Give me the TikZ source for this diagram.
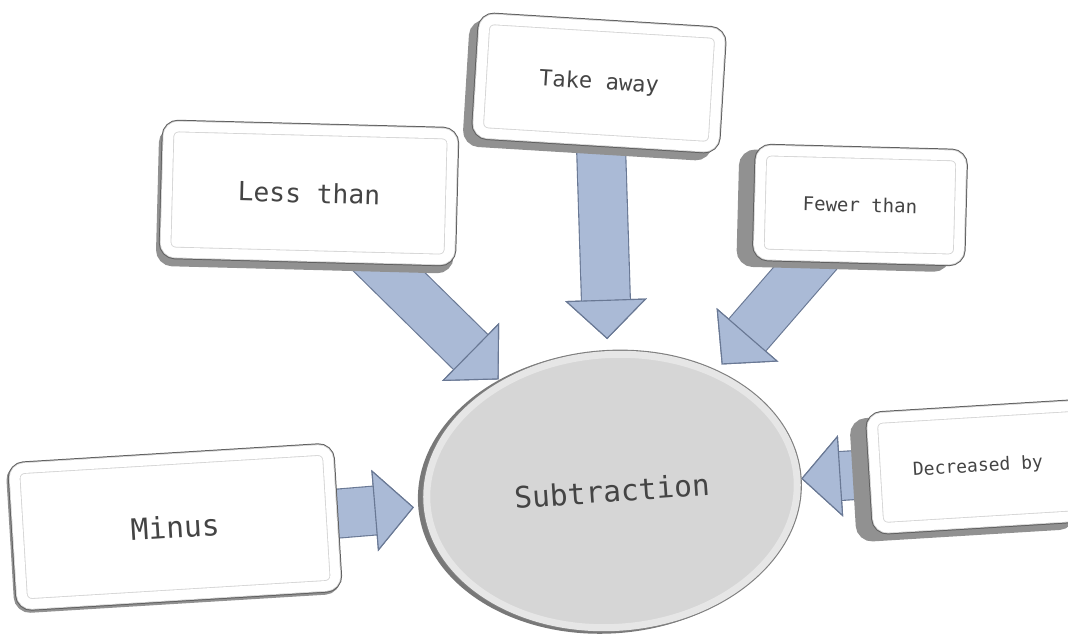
\documentclass[tikz,border=0pt]{standalone}
\usepackage{fontspec}
\setmonofont{DejaVu Sans Mono}
\usetikzlibrary{arrows.meta,shapes.geometric,backgrounds}

\definecolor{arrowFill}{RGB}{170,186,214}
\definecolor{arrowEdge}{RGB}{105,120,148}
\definecolor{boxEdge}{RGB}{95,95,95}
\definecolor{boxSide}{RGB}{145,145,145}
\definecolor{bevelGrey}{RGB}{212,212,212}
\definecolor{hubFill}{RGB}{214,214,214}
\definecolor{hubRing}{RGB}{230,230,230}
\definecolor{hubSide}{RGB}{120,120,120}
\definecolor{textGrey}{RGB}{68,68,68}

\begin{document}
\begin{tikzpicture}[x=0.025cm, y=-0.025cm]
		\tikzset{keybox/.style={rectangle, rounded corners=7pt, inner sep=0pt, fill=white,
				draw=bevelGrey, line width=0.6pt, double=white, double distance=7pt, text=textGrey,
				preaction={fill=boxSide, draw=boxSide, line width=9.6pt, transform canvas={shift={#1}}},
				preaction={draw=boxEdge, line width=9.6pt}}}
		\tikzstyle{hub} = [ellipse, inner sep=0pt, minimum width=9.27cm, minimum height=6.82cm,
		fill=hubFill, draw=hubRing, line width=5pt, text=textGrey,
		preaction={draw=hubSide, line width=6.6pt, transform canvas={shift={(-3pt,-1pt)}}},
		preaction={draw=boxEdge!80, line width=6.6pt}]
		\tikzstyle{fatArrow} = [draw=arrowFill, line width=34pt,
		-{Triangle[width=58pt, length=28pt, color=arrowEdge, fill=arrowFill, line width=0.8pt]},
		preaction={draw=arrowEdge, line width=35.6pt}]
		\useasboundingbox (0,0) rectangle (1068,635);
		\clip (0,0) rectangle (1068,635);
		\node (subtraction) [hub, rotate=4, font=\ttfamily\fontsize{21}{25}\selectfont] at (612,491) {Subtraction};
		\node (takeAway) [keybox={(-6pt,-5pt)}, minimum width=5.9cm, minimum height=2.85cm, rotate=-3.5,
		font=\ttfamily\fontsize{15.7}{19}\selectfont] at (599,83) {Take away};
		\node (lessThan) [keybox={(-2pt,-5pt)}, minimum width=7.1cm, minimum height=3.15cm, rotate=-1.5,
		font=\ttfamily\fontsize{18.7}{22}\selectfont] at (309,193) {Less than};
		\node (fewerThan) [keybox={(-11pt,-4pt)}, minimum width=5cm, minimum height=2.6cm, rotate=-1.5,
		font=\ttfamily\fontsize{13.5}{16}\selectfont] at (860,205) {Fewer than};
		\node (minus) [keybox={(-1pt,-1.5pt)}, minimum width=7.85cm, minimum height=3.4cm, rotate=3.5,
		font=\ttfamily\fontsize{21}{25}\selectfont] at (175,527) {Minus};
		\node (decreasedBy) [keybox={(-11pt,-5pt)}, minimum width=5.15cm, minimum height=2.75cm, rotate=3.5,
		font=\ttfamily\fontsize{12.8}{15}\selectfont] at (978,467) {Decreased by};
		\begin{scope}[on background layer]
		\draw [fatArrow, shorten >=2pt] (lessThan.center) -- (subtraction);
		\draw [fatArrow, shorten >=8.5pt] (takeAway.center) -- (subtraction);
		\draw [fatArrow, shorten >=6pt] (fewerThan.center) -- (subtraction);
		\draw [fatArrow, shorten >=7pt] (minus.center) -- (subtraction);
		\draw [fatArrow, shorten >=0.5pt] (decreasedBy.center) -- (subtraction);
		\end{scope}
		\end{tikzpicture}
\end{document}
